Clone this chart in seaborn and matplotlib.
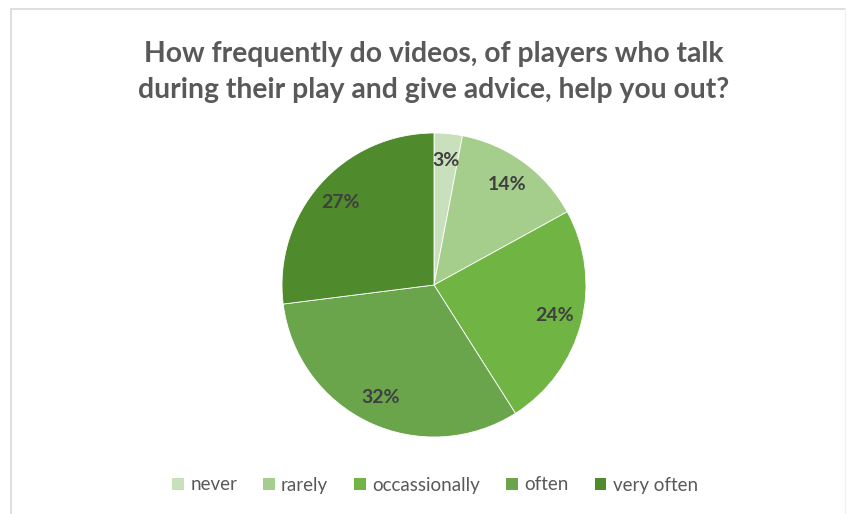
import matplotlib
matplotlib.use("Agg")
import matplotlib.pyplot as plt
from matplotlib.patches import Patch
from matplotlib.lines import Line2D
import seaborn as sns

# Survey answers and their shares (percent)
categories = ["never", "rarely", "occassionally", "often", "very often"]
shares = [3, 14, 24, 32, 27]
slice_colors = ["#c9e0bc", "#a5cd8b", "#70b443", "#6aa54c", "#4f8a2d"]
title_text = ("How frequently do videos, of players who talk\n"
              "during their play and give advice, help you out?")

sns.set_theme(style="white")
plt.rcParams["font.family"] = ["Lato", "DejaVu Sans"]

W, H = 847, 514
fig = plt.figure(figsize=(W / 100, H / 100), dpi=100)
fig.patch.set_facecolor("white")

# chart frame (top, left and right edges)
frame_kw = dict(color="#d9d9d9", lw=1.2, transform=fig.transFigure)
fig.add_artist(Line2D([11 / W, 845 / W], [1 - 9 / H, 1 - 9 / H], **frame_kw))
fig.add_artist(Line2D([11 / W, 11 / W], [0, 1 - 9 / H], **frame_kw))
fig.add_artist(Line2D([845 / W, 845 / W], [0, 1 - 9 / H],
                      color="#f0f0f0", lw=1.0, transform=fig.transFigure))

# pie axes: centre (434, 285) px, radius 152 px
cx, cy, r = 434, 285, 152
ax = fig.add_axes([(cx - r) / W, (H - cy - r) / H, 2 * r / W, 2 * r / H])
wedges, _, autotexts = ax.pie(
    shares,
    colors=slice_colors,
    startangle=90,
    counterclock=False,
    autopct=lambda p: f"{p:.0f}%",
    pctdistance=0.82,
    wedgeprops=dict(edgecolor="white", linewidth=0.6),
    textprops=dict(fontsize=14, fontweight="bold", color="#3f3f3f"),
)
ax.set_xlim(-1, 1)
ax.set_ylim(-1, 1)
ax.set_aspect("equal")
ax.axis("off")

fig.text(434 / W, 1 - 72 / H, title_text, ha="center", va="center",
         fontsize=20.3, fontweight="bold", color="#595959", linespacing=1.45)

handles = [Patch(facecolor=c, edgecolor="none") for c in slice_colors]
fig.legend(handles, categories, loc="center", ncol=5,
           bbox_to_anchor=(435 / W, 1 - 485 / H), frameon=False,
           handlelength=0.6, handleheight=0.6, handletextpad=0.35,
           columnspacing=1.4, labelcolor="#595959",
           prop=dict(size=13.5, family=["Lato", "DejaVu Sans"]))

fig.savefig("out.png", dpi=100, facecolor="white")
